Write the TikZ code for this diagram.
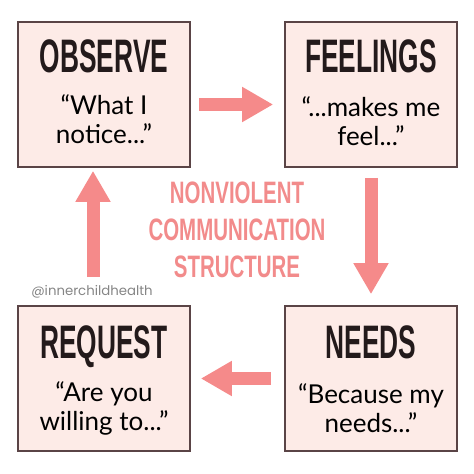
\documentclass[tikz,border=0pt]{standalone}
\usepackage{fontspec}
\usepackage{xcolor}
\usetikzlibrary{positioning,arrows.meta}

\newfontfamily\titlefont[FakeStretch=0.56]{Liberation Sans}
\newfontfamily\centrefont[FakeStretch=0.66]{Liberation Sans}
\newfontfamily\handfont{Lato}
\newfontfamily\tagfont{Poppins}

\definecolor{boxfill}{HTML}{FDEBE7}
\definecolor{boxline}{HTML}{5A4446}
\definecolor{titletext}{HTML}{231A1B}
\definecolor{arrowpink}{HTML}{F58A8A}
\definecolor{centretext}{HTML}{F28B8B}
\definecolor{tagtext}{HTML}{858585}

\begin{document}
\begin{tikzpicture}[x=1pt, y=-1pt, on grid,
  stepbox/.style={draw=boxline, fill=boxfill, line width=1.6pt,
    minimum width=172pt, minimum height=145pt},
  heading/.style={font=\titlefont\bfseries\fontsize{47}{47}\selectfont,
    text=titletext, anchor=base, inner sep=0pt},
  quote/.style={font=\handfont\fontsize{26}{29}\selectfont,
    align=center, inner sep=0pt},
  flow/.style={draw=arrowpink, line width=13pt,
    -{Triangle[length=31pt,width=33pt]}}]

  \useasboundingbox (0,0) rectangle (474,474);

  \node[stepbox] (obs) at (104,94.5) {};
  \node[stepbox] (feel) [right=267pt of obs] {};
  \node[stepbox] (req) [below=284pt of obs] {};
  \node[stepbox] (need) [right=267pt of req] {};

  \node[heading] (obs-title) at ([yshift=22pt]obs.center) {OBSERVE};
  \node[heading] (feel-title) at ([yshift=22pt]feel.center) {FEELINGS};
  \node[heading] (req-title) at ([yshift=20pt]req.center) {REQUEST};
  \node[heading] (need-title) at ([yshift=20pt]need.center) {NEEDS};

  \node[quote] (obs-quote) at ([yshift=-25pt]obs.center) {“What I\\notice...”};
  \node[quote] (feel-quote) at ([yshift=-27pt]feel.center) {“...makes me\\feel...”};
  \node[quote] (req-quote) at ([yshift=-30pt]req.center) {“Are you\\willing to...”};
  \node[quote] (need-quote) at ([yshift=-30pt]need.center) {“Because my\\needs...”};

  \node[font=\centrefont\bfseries\fontsize{31}{37}\selectfont, text=centretext,
    align=center] (title) at (237,230) {NONVIOLENT\\COMMUNICATION\\STRUCTURE};
  \node[font=\tagfont\fontsize{13.3}{13}\selectfont, text=tagtext]
    (tag) at (92,292) {@innerchildhealth};

  \draw[flow, shorten <=8pt, shorten >=11pt]
    ([yshift=-10pt]obs.east) -- ([yshift=-10pt]feel.west);
  \draw[flow, shorten <=10pt, shorten >=11pt] (feel.south) -- (need.north);
  \draw[flow, shorten <=13pt, shorten >=10pt] (need.west) -- (req.east);
  \draw[flow, shorten <=28pt, shorten >=3pt]
    ([xshift=-11pt]req.north) -- ([xshift=-11pt]obs.south);

\end{tikzpicture}
\end{document}
